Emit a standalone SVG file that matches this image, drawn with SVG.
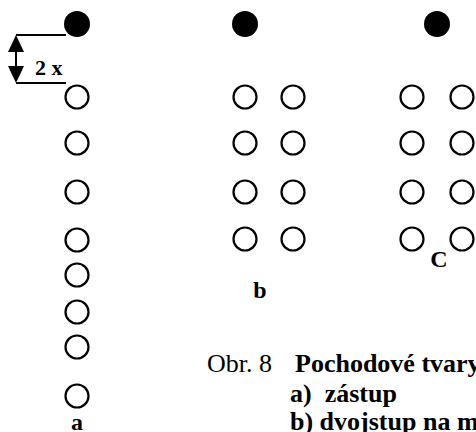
<svg xmlns="http://www.w3.org/2000/svg" width="476" height="432" viewBox="0 0 476 432">
<style>
.h{fill:none;stroke:#000;stroke-width:2.2}
.f{fill:#000}
.t{font-family:"Liberation Serif","Times New Roman",serif;fill:#000}
.b{font-weight:bold}
.ln{stroke:#000;stroke-width:2;fill:none}
</style>
<rect width="476" height="432" fill="#fff"/>
<g id="col-a">
<circle class="f" cx="77" cy="24" r="13"/>
<circle class="h" cx="77" cy="97" r="11.5"/>
<circle class="h" cx="77" cy="143" r="11.5"/>
<circle class="h" cx="77" cy="192" r="11.5"/>
<circle class="h" cx="77" cy="240" r="11.5"/>
<circle class="h" cx="77" cy="275" r="11.5"/>
<circle class="h" cx="77" cy="312" r="11.5"/>
<circle class="h" cx="77" cy="347" r="11.5"/>
<circle class="h" cx="77" cy="396" r="11.5"/>
<text class="t b" x="77" y="430" font-size="24" text-anchor="middle">a</text>
</g>
<g id="col-b">
<circle class="f" cx="245" cy="24" r="13"/>
<circle class="h" cx="245" cy="97" r="11.5"/>
<circle class="h" cx="293" cy="97" r="11.5"/>
<circle class="h" cx="245" cy="143" r="11.5"/>
<circle class="h" cx="293" cy="143" r="11.5"/>
<circle class="h" cx="245" cy="192" r="11.5"/>
<circle class="h" cx="293" cy="192" r="11.5"/>
<circle class="h" cx="245" cy="239" r="11.5"/>
<circle class="h" cx="293" cy="239" r="11.5"/>
<text class="t b" x="260" y="298" font-size="24" text-anchor="middle">b</text>
</g>
<g id="col-c">
<circle class="f" cx="437" cy="24" r="13"/>
<circle class="h" cx="412" cy="97" r="11.5"/>
<circle class="h" cx="462" cy="97" r="11.5"/>
<circle class="h" cx="412" cy="143" r="11.5"/>
<circle class="h" cx="462" cy="143" r="11.5"/>
<circle class="h" cx="412" cy="192" r="11.5"/>
<circle class="h" cx="462" cy="192" r="11.5"/>
<circle class="h" cx="412" cy="239" r="11.5"/>
<circle class="h" cx="462" cy="239" r="11.5"/>
<text class="t b" x="439" y="267" font-size="24" text-anchor="middle">C</text>
</g>
<g id="connectors">
<line class="ln" x1="16" y1="35" x2="66" y2="35"/>
<line class="ln" x1="16" y1="83" x2="66" y2="83"/>
<line class="ln" x1="16" y1="48" x2="16" y2="70"/>
<polygon class="f" points="16,35 8,52 24,52"/>
<polygon class="f" points="16,83 8,66 24,66"/>
</g>
<g id="dim-label">
<text class="t b" x="35" y="75" font-size="22">2 x</text>
</g>
<g id="caption">
<text class="t" x="207" y="372" font-size="26">Obr. 8</text>
<text class="t b" x="295" y="372" font-size="26">Pochodové tvary</text>
<text class="t b" x="290" y="402" font-size="26" xml:space="preserve" style="white-space:pre">a)  zástup</text>
<text class="t b" x="290" y="430" font-size="26">b) dvojstup na m</text>
</g>
</svg>
